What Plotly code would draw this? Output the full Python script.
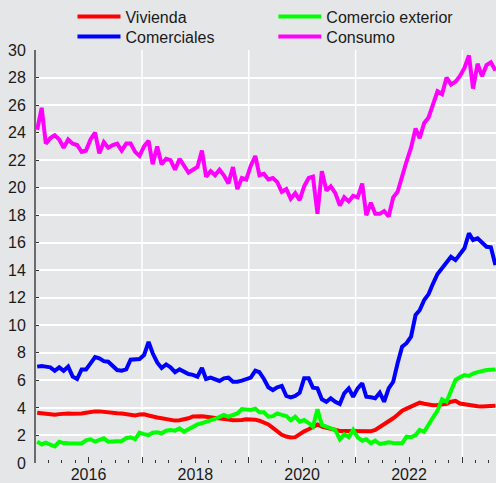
import pandas as pd
import plotly.graph_objects as go

# Monthly dates (mid-month), Jan 2015 - Aug 2023
dates = pd.date_range("2015-01-01", periods=104, freq="MS") + pd.Timedelta(days=14)

vivienda = [
    3.65, 3.6, 3.55, 3.5, 3.5, 3.55, 3.6, 3.6, 3.58, 3.56,
    3.6, 3.65, 3.72, 3.75, 3.75, 3.7, 3.68, 3.66, 3.62, 3.6,
    3.55, 3.45, 3.45, 3.52, 3.54, 3.45, 3.35, 3.3, 3.25, 3.2,
    3.12, 3.08, 3.1, 3.15, 3.25, 3.38, 3.42, 3.4, 3.36, 3.33,
    3.3, 3.26, 3.22, 3.15, 3.1, 3.08, 3.12, 3.18, 3.2, 3.15,
    3.07, 2.95, 2.8, 2.55, 2.3, 2.05, 1.92, 1.85, 1.88, 2.1,
    2.3, 2.45, 2.6, 2.8, 2.65, 2.55, 2.45, 2.38, 2.32, 2.32,
    2.32, 2.3, 2.27, 2.27, 2.27, 2.3, 2.4, 2.6, 2.85, 3.05,
    3.25, 3.5, 3.8, 3.95, 4.1, 4.3, 4.38, 4.3, 4.22, 4.2,
    4.21, 4.25, 4.3, 4.45, 4.52, 4.32, 4.25, 4.18, 4.15, 4.12,
    4.1, 4.1, 4.13, 4.15,
]

comercio_exterior = [
    1.55, 1.35, 1.48, 1.3, 1.2, 1.55, 1.45, 1.43, 1.43, 1.38,
    1.42, 1.65, 1.72, 1.55, 1.7, 1.79, 1.55, 1.55, 1.55, 1.6,
    1.8, 1.87, 1.72, 2.2, 2.1, 2.03, 2.2, 2.23, 2.16, 2.35,
    2.4, 2.35, 2.52, 2.27, 2.45, 2.64, 2.8, 2.9, 3.0, 3.05,
    3.2, 3.35, 3.49, 3.36, 3.5, 3.6, 3.92, 3.85, 3.85, 3.95,
    3.68, 3.68, 3.36, 3.4, 3.6, 3.5, 3.41, 3.12, 3.36, 3.0,
    3.12, 2.9, 2.64, 3.9, 2.76, 2.65, 2.55, 2.4, 1.72, 2.08,
    1.87, 2.4, 1.87, 1.62, 1.72, 1.43, 1.62, 1.38, 1.43, 1.5,
    1.46, 1.43, 1.43, 1.91, 1.87, 2.03, 2.4, 2.27, 2.83, 3.32,
    3.8, 4.63, 4.45, 5.3, 6.03, 6.22, 6.39, 6.32, 6.5, 6.6,
    6.7, 6.75, 6.78, 6.8,
]

comerciales = [
    7.0, 7.05, 7.0, 6.95, 6.7, 6.95, 6.7, 7.0, 6.27, 6.1,
    6.8, 6.8, 7.24, 7.7, 7.6, 7.4, 7.36, 7.07, 6.75, 6.7,
    6.8, 7.5, 7.5, 7.55, 7.84, 8.8, 7.97, 7.3, 6.9, 7.16,
    6.95, 6.6, 6.8, 6.6, 6.46, 6.4, 6.27, 6.9, 6.1, 6.2,
    6.1, 5.96, 6.15, 6.2, 5.9, 5.9, 5.98, 6.1, 6.2, 6.7,
    6.6, 6.1, 5.5, 5.3, 5.5, 5.6, 4.87, 4.77, 4.87, 5.1,
    6.15, 6.15, 5.47, 5.42, 4.63, 4.45, 4.7, 4.45, 4.28, 5.06,
    5.42, 4.81, 5.42, 5.79, 4.81, 4.77, 4.7, 5.1, 4.45, 5.42,
    5.9, 7.24, 8.45, 8.7, 9.17, 10.75, 11.1, 11.84, 12.27, 13.05,
    13.73, 14.14, 14.55, 14.98, 14.74, 15.18, 15.6, 16.68, 16.2, 16.32,
    16.0, 15.71, 15.67, 14.38,
]

consumo = [
    24.2, 25.8, 23.2, 23.6, 23.8, 23.5, 22.9, 23.5, 23.2, 23.1,
    22.6, 22.7, 23.5, 24.0, 22.5, 23.3, 22.9, 23.1, 23.2, 22.7,
    23.2, 23.2, 22.6, 22.3, 23.0, 23.4, 21.7, 23.0, 21.7, 22.1,
    22.0, 21.3, 22.1, 21.6, 21.1, 21.3, 21.5, 22.7, 20.8, 21.2,
    20.9, 21.3, 20.9, 20.3, 21.5, 19.9, 20.7, 20.6, 21.6, 22.3,
    20.9, 21.0, 20.6, 20.7, 20.4, 19.7, 19.9, 19.2, 19.6, 19.1,
    20.1, 20.7, 20.8, 18.1, 21.2, 19.8, 20.1, 19.6, 18.7, 19.3,
    19.0, 19.4, 19.3, 20.3, 18.0, 18.9, 18.1, 18.1, 18.3, 17.9,
    19.3, 19.7, 20.9, 21.9, 22.9, 24.3, 23.6, 24.7, 25.1, 26.1,
    27.0, 26.8, 28.0, 27.5, 27.7, 28.1, 28.7, 29.6, 27.2, 29.0,
    28.1, 28.9, 29.1, 28.5,
]

series = [
    ("Vivienda", vivienda, "#FF0000", "legend"),
    ("Comercio exterior", comercio_exterior, "#00FF00", "legend2"),
    ("Comerciales", comerciales, "#0000FF", "legend3"),
    ("Consumo", consumo, "#FF00FF", "legend4"),
]

year_ticks = [f"{y}-01-01" for y in range(2015, 2024)]
year_labels = [str(y) if y % 2 == 0 else "" for y in range(2015, 2024)]
grid_years = [f"{y}-01-01" for y in (2017, 2019, 2021, 2023)]

BG = "#E5E6E8"
FONT = "Liberation Sans, Arial, sans-serif"

fig = go.Figure()
for name, vals, col, lg in series:
    fig.add_trace(go.Scatter(
        x=dates, y=vals, name=name, mode="lines",
        line=dict(color=col, width=4), legend=lg,
    ))

for g in grid_years:
    fig.add_vline(x=g, line=dict(color="white", width=1.5), layer="below")


def leg(x, y):
    return dict(
        orientation="h", x=x, xanchor="left", y=y, yanchor="top",
        bgcolor="rgba(0,0,0,0)", itemwidth=43, font=dict(size=16),
    )


col1, col2 = 0.0793, 0.516
row1, row2 = 1.1222, 1.0739

fig.update_layout(
    width=496, height=483,
    margin=dict(l=36, r=0, t=50, b=20, autoexpand=False),
    paper_bgcolor=BG, plot_bgcolor=BG,
    font=dict(family=FONT, size=16, color="#1a1a1a"),
    showlegend=True,
    legend=leg(col1, row1),
    legend2=leg(col2, row1),
    legend3=leg(col1, row2),
    legend4=leg(col2, row2),
    xaxis=dict(
        type="date",
        range=["2015-01-07", "2023-08-19"],
        tickmode="array", tickvals=year_ticks, ticktext=year_labels,
        ticks="inside", ticklen=6, tickwidth=1, tickcolor="#333",
        showgrid=False, zeroline=False, showline=False,
        minor=dict(dtick="M3", tick0="2015-01-01", ticks="inside",
                   ticklen=3, tickwidth=1, tickcolor="#333", showgrid=False),
        ticklabelstandoff=0,
        tickfont=dict(size=16),
    ),
    yaxis=dict(
        range=[0, 30], dtick=2, tick0=0,
        showgrid=True, gridcolor="white", gridwidth=1.5,
        zeroline=False, showline=True, linecolor="#6b6b6b", linewidth=2,
        ticks="inside", ticklen=3, tickcolor="#333", tickwidth=1,
        ticklabelstandoff=5,
        tickfont=dict(size=16),
    ),
)

fig.write_html("out.html", config={"displayModeBar": False})

# remove the browser's default page margin so the figure sits at (0, 0)
with open("out.html", encoding="utf-8") as f:
    html = f.read()
html = html.replace("<body>", '<body style="margin:0;padding:0;overflow:hidden">', 1)
html = html.replace("<head>", "<head><style>html,body{margin:0;padding:0;}</style>", 1)
with open("out.html", "w", encoding="utf-8") as f:
    f.write(html)
